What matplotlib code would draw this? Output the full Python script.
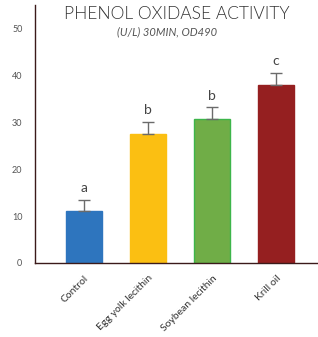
import matplotlib.pyplot as plt
import numpy as np

# --- Data ---
groups = ["Control", "Egg yolk lecithin", "Soybean lecithin", "Krill oil"]
activity = [11.1, 27.4, 30.6, 38.0]
errors = [2.4, 2.7, 2.6, 2.6]
letters = ["a", "b", "b", "c"]
colors = ["#2E75BE", "#FBBF12", "#70AD47", "#951F20"]
edges = ["#2E75BE", "#FBBF12", "#3DB54A", "#951F20"]
yticks = [0, 10, 20, 30, 40, 50]

plt.rcParams['font.family'] = ['Lato', 'DejaVu Sans']

fig = plt.figure(figsize=(3.18, 3.37), dpi=100)
ax = fig.add_axes([0.110, 0.2196, 0.890, 0.7656])

x = np.arange(len(groups))
ax.bar(x, activity, width=0.56, color=colors, edgecolor=edges, linewidth=1.0, zorder=2)
ax.errorbar(x, activity, yerr=[np.zeros(len(errors)), errors], fmt='none',
            ecolor="#6b6b6b", elinewidth=1.0, capsize=4.3, capthick=1.0, zorder=3)

# significance letters above the error bars
for xi, v, e, lab in zip(x, activity, errors, letters):
    ax.text(xi, v + e + 1.2, lab, ha='center', va='bottom', fontsize=10, color="#444444")

ax.set_xlim(-0.766, 3.656)
ax.set_ylim(0, 55)
ax.set_yticks(yticks)
ax.set_yticklabels([str(t) for t in yticks], fontsize=6.5, color="#555555")
ax.set_xticks(x)
ax.set_xticklabels(groups, rotation=45, ha='right', rotation_mode='anchor',
                   fontsize=7.5, color="#333333")
ax.tick_params(axis='both', length=0, pad=9)
ax.tick_params(axis='x', pad=7.5)

for side in ['top', 'right']:
    ax.spines[side].set_visible(False)
for side in ['left', 'bottom']:
    ax.spines[side].set_color("#3b1a1a")
    ax.spines[side].set_linewidth(1.0)

fig.text(0.557, 0.958, "PHENOL OXIDASE ACTIVITY", ha='center', va='center',
         fontsize=12.5, color="#333333", fontweight=300)
fig.text(0.525, 0.905, "(U/L) 30MIN, OD490", ha='center', va='center',
         fontsize=8, color="#555555", style='italic')

fig.savefig("out.png", dpi=100)
